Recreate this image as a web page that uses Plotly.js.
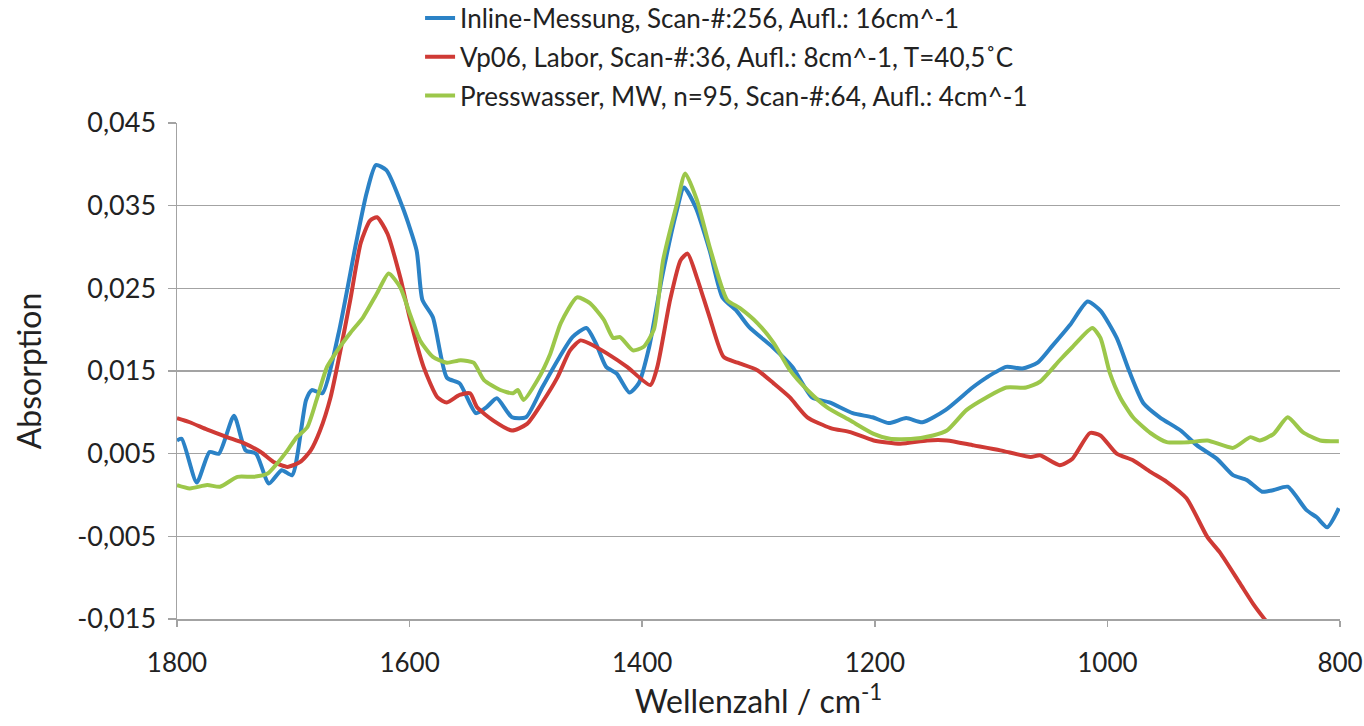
<!DOCTYPE html>
<html>
<head>
<meta charset="utf-8">
<script src="https://cdn.plot.ly/plotly-3.0.1.min.js"></script>
<style>html,body{margin:0;padding:0;background:#fff;}#chart{width:1364px;height:726px;}</style>
</head>
<body>
<div id="chart"></div>
<script>
// Series names
var seriesNames = [
  "Inline-Messung, Scan-#:256, Aufl.: 16cm^-1",
  "Vp06, Labor, Scan-#:36, Aufl.: 8cm^-1, T=40,5˚C",
  "Presswasser, MW, n=95, Scan-#:64, Aufl.: 4cm^-1"
];

// Inline-Messung (blue)
var inlineX = [1800,1796,1783,1772,1764,1751,1741,1732,1721,1710,1701,1689,1684,1675,1661,1646,1637,1629,1620,1606,1594,1589,1580,1568,1557,1543,1534,1525,1512,1500,1486,1471,1460,1448,1440,1431,1422,1411,1403,1394,1383,1371,1364,1354,1342,1331,1319,1308,1288,1271,1254,1239,1219,1202,1188,1173,1159,1139,1116,1104,1087,1073,1060,1047,1032,1017,1006,992,981,969,955,937,923,906,892,880,867,857,845,829,820,811,801];
var inlineY = [0.0066,0.0068,0.0015,0.0052,0.0050,0.0096,0.0054,0.0050,0.0014,0.0030,0.0024,0.0115,0.0127,0.0123,0.0196,0.0305,0.0365,0.0399,0.0393,0.0348,0.0296,0.0236,0.0215,0.0142,0.0135,0.0099,0.0106,0.0117,0.0094,0.0094,0.0130,0.0167,0.0191,0.0202,0.0184,0.0155,0.0147,0.0124,0.0135,0.0179,0.0263,0.0340,0.0372,0.0348,0.0296,0.0239,0.0223,0.0203,0.0179,0.0155,0.0118,0.0112,0.0099,0.0094,0.0087,0.0093,0.0088,0.0103,0.0130,0.0142,0.0155,0.0153,0.0160,0.0181,0.0206,0.0234,0.0223,0.0190,0.0149,0.0111,0.0094,0.0078,0.0060,0.0044,0.0024,0.0018,0.0004,0.0006,0.0010,-0.0018,-0.0027,-0.0039,-0.0016];

// Vp06, Labor (red)
var laborX = [1800,1789,1774,1757,1743,1728,1717,1705,1694,1685,1677,1668,1660,1651,1642,1634,1628,1619,1608,1600,1588,1576,1568,1557,1548,1542,1528,1512,1499,1485,1473,1462,1453,1445,1430,1413,1393,1387,1376,1367,1361,1353,1342,1330,1318,1301,1287,1273,1258,1238,1221,1201,1178,1155,1138,1115,1092,1066,1058,1041,1030,1015,1006,992,978,963,949,932,914,903,886,875,866,858];
var laborY = [0.0093,0.0088,0.0079,0.0070,0.0063,0.0052,0.0040,0.0034,0.0040,0.0054,0.0078,0.0118,0.0171,0.0236,0.0305,0.0332,0.0336,0.0316,0.0263,0.0215,0.0155,0.0118,0.0112,0.0121,0.0123,0.0106,0.0090,0.0078,0.0086,0.0114,0.0142,0.0175,0.0187,0.0183,0.0171,0.0155,0.0133,0.0155,0.0236,0.0284,0.0292,0.0263,0.0215,0.0167,0.0160,0.0151,0.0135,0.0118,0.0094,0.0081,0.0076,0.0066,0.0062,0.0066,0.0066,0.0060,0.0054,0.0046,0.0048,0.0036,0.0044,0.0075,0.0072,0.0050,0.0042,0.0028,0.0016,-0.0004,-0.0051,-0.0070,-0.0107,-0.0131,-0.0148,-0.0162];

// Presswasser (green)
var pressX = [1800,1789,1774,1763,1748,1734,1722,1714,1705,1697,1688,1680,1671,1662,1651,1640,1628,1618,1608,1600,1591,1580,1568,1556,1545,1536,1522,1511,1507,1502,1490,1479,1470,1456,1445,1433,1425,1419,1408,1399,1390,1382,1370,1363,1353,1342,1327,1316,1301,1287,1273,1258,1241,1221,1201,1187,1167,1150,1138,1121,1104,1087,1070,1058,1041,1030,1013,1006,998,989,978,963,949,929,914,892,877,869,857,845,832,817,801];
var pressY = [0.0012,0.0008,0.0012,0.0010,0.0022,0.0022,0.0026,0.0038,0.0054,0.0070,0.0082,0.0115,0.0155,0.0175,0.0196,0.0215,0.0244,0.0268,0.0251,0.0220,0.0187,0.0167,0.0160,0.0163,0.0160,0.0139,0.0127,0.0123,0.0127,0.0115,0.0139,0.0171,0.0208,0.0239,0.0232,0.0212,0.0190,0.0191,0.0175,0.0179,0.0200,0.0284,0.0353,0.0389,0.0357,0.0300,0.0236,0.0226,0.0208,0.0184,0.0151,0.0127,0.0106,0.0090,0.0074,0.0068,0.0068,0.0072,0.0078,0.0103,0.0118,0.0130,0.0130,0.0137,0.0163,0.0179,0.0202,0.0190,0.0148,0.0118,0.0094,0.0075,0.0064,0.0064,0.0066,0.0057,0.0070,0.0066,0.0074,0.0094,0.0076,0.0066,0.0065];

// Axis ticks
var xTickVals = [1800,1600,1400,1200,1000,800];
var xTickText = ["1800","1600","1400","1200","1000","800"];
var yTickVals = [0.045,0.035,0.025,0.015,0.005,-0.005,-0.015];
var yTickText = ["0,045","0,035","0,025","0,015","0,005","-0,005","-0,015"];

var colors = ["#2b82c6","#cf3a35","#9cc74a"];
var xs = [inlineX, laborX, pressX];
var ys = [inlineY, laborY, pressY];

var traces = seriesNames.map(function(n,i){
  return {
    type:"scatter", mode:"lines", name:n, x:xs[i], y:ys[i],
    legendgroup:"g"+i,
    line:{color:colors[i], width:4, shape:"spline", smoothing:0.6}
  };
});

var gridCol = "#a3a3a3";
var layout = {
  width:1364, height:726,
  paper_bgcolor:"#fff", plot_bgcolor:"#fff",
  margin:{l:177, r:24, t:123, b:107, autoexpand:false},
  font:{family:"Lato, 'Open Sans', sans-serif", color:"#222"},
  showlegend:true,
  legend:{
    x:0.209, xanchor:"left", y:1.259, yanchor:"top",
    font:{size:26, color:"#222"}, tracegroupgap:2, traceorder:"grouped",
    bgcolor:"rgba(0,0,0,0)"
  },
  xaxis:{
    range:[1800,800], tickvals:xTickVals, ticktext:xTickText,
    showgrid:false, zeroline:false, showline:true, linecolor:gridCol, linewidth:1.5,
    ticks:"outside", ticklen:6, tickcolor:gridCol, tickwidth:1.5,
    tickfont:{size:26, color:"#222"}, ticklabelstandoff:14,
    title:{text:"Wellenzahl / cm<sup>-1</sup>", font:{size:32, color:"#222"}, standoff:10}
  },
  yaxis:{
    range:[-0.015,0.045], tickvals:yTickVals, ticktext:yTickText,
    showgrid:true, gridcolor:gridCol, gridwidth:1.5,
    zeroline:false, showline:true, linecolor:gridCol, linewidth:1.5,
    ticks:"outside", ticklen:8, tickcolor:gridCol, tickwidth:1.5,
    tickfont:{size:27, color:"#222"}, ticklabelstandoff:6,
    title:{text:"Absorption", font:{size:32, color:"#222"}, standoff:26}
  }
};

Plotly.newPlot("chart", traces, layout, {displayModeBar:false, staticPlot:true});
</script>
</body>
</html>
